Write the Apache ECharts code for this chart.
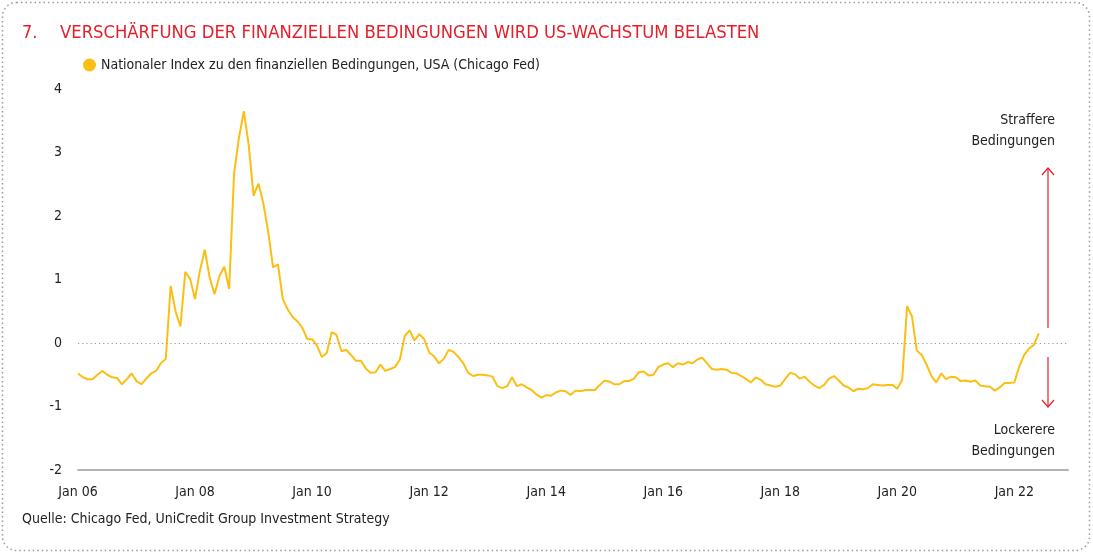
<!DOCTYPE html>
<html><head><meta charset="utf-8">
<script src="https://cdn.jsdelivr.net/npm/echarts@6/dist/echarts.min.js"></script>
<style>html,body{margin:0;padding:0;background:#fff}#c{width:1093px;height:554px}</style>
</head><body><div id="c"></div>
<script>
const TITLE_NUM = '7.';
const TITLE = 'VERSCHÄRFUNG DER FINANZIELLEN BEDINGUNGEN WIRD US-WACHSTUM BELASTEN';
const SERIES_NAME = 'Nationaler Index zu den finanziellen Bedingungen, USA (Chicago Fed)';
const SOURCE = 'Quelle: Chicago Fed, UniCredit Group Investment Strategy';
const START_YEAR = 2006;
const END_YEAR = 2022; // axis runs through Dec 2022
const tickLabels = ['Jan 06','Jan 08','Jan 10','Jan 12','Jan 14','Jan 16','Jan 18','Jan 20','Jan 22'];
const yTicks = [-2,-1,0,1,2,3,4];
// monthly values, Jan 2006 .. Jun 2022
const nfci = [
 -0.48,-0.54,-0.57,-0.57,-0.50,-0.44,-0.50,-0.54,-0.55,-0.65,-0.57,-0.48,
 -0.60,-0.65,-0.56,-0.48,-0.44,-0.32,-0.25,0.90,0.50,0.26,1.12,1.01,
 0.69,1.14,1.47,1.03,0.77,1.05,1.20,0.85,2.67,3.23,3.65,3.12,
 2.32,2.51,2.20,1.75,1.19,1.24,0.69,0.53,0.41,0.34,0.24,0.06,
 0.06,-0.04,-0.22,-0.16,0.17,0.13,-0.13,-0.11,-0.19,-0.28,-0.28,-0.40,
 -0.47,-0.46,-0.34,-0.44,-0.41,-0.38,-0.26,0.11,0.20,0.04,0.14,0.06,
 -0.15,-0.21,-0.32,-0.25,-0.11,-0.14,-0.22,-0.32,-0.47,-0.52,-0.50,-0.50,
 -0.51,-0.53,-0.68,-0.71,-0.68,-0.54,-0.68,-0.65,-0.70,-0.74,-0.81,-0.86,
 -0.82,-0.83,-0.78,-0.75,-0.76,-0.82,-0.75,-0.76,-0.74,-0.74,-0.74,-0.66,
 -0.59,-0.61,-0.65,-0.65,-0.60,-0.60,-0.56,-0.46,-0.45,-0.51,-0.50,-0.38,
 -0.34,-0.32,-0.38,-0.32,-0.34,-0.30,-0.32,-0.26,-0.23,-0.32,-0.41,-0.42,
 -0.41,-0.42,-0.47,-0.48,-0.52,-0.57,-0.62,-0.54,-0.58,-0.65,-0.67,-0.69,
 -0.67,-0.57,-0.47,-0.49,-0.56,-0.53,-0.61,-0.67,-0.71,-0.66,-0.56,-0.52,
 -0.59,-0.67,-0.70,-0.76,-0.72,-0.73,-0.71,-0.65,-0.66,-0.67,-0.66,-0.66,
 -0.72,-0.58,0.58,0.42,-0.12,-0.19,-0.34,-0.52,-0.62,-0.48,-0.57,-0.53,
 -0.54,-0.60,-0.59,-0.61,-0.59,-0.67,-0.68,-0.69,-0.75,-0.70,-0.63,-0.63,
 -0.62,-0.37,-0.19,-0.09,-0.03,0.15
];
const annotTop = ['Straffere','Bedingungen'];
const annotBottom = ['Lockerere','Bedingungen'];

const MONTHS = ['Jan','Feb','Mar','Apr','May','Jun','Jul','Aug','Sep','Oct','Nov','Dec'];
const categories = [];
for (let y = START_YEAR; y <= END_YEAR; y++) {
  for (let m = 0; m < 12; m++) categories.push(MONTHS[m] + ' ' + String(y % 100).padStart(2,'0'));
}
const FONT = '"Liberation Sans Narrow","DejaVu Sans Condensed","Roboto",sans-serif';
const RED = '#e2202c';
const YEL = '#fbbf14';

const annText = (lines, yTop) => lines.map((t, i) => ({
  type: 'text', x: 1055, y: yTop + i * 21,
  style: {text: t, fill: '#222', font: '14px ' + FONT, textAlign: 'right', textVerticalAlign: 'top'}
}));

const chart = echarts.init(document.getElementById('c'), null, {renderer:'canvas'});
chart.setOption({
  animation: false,
  backgroundColor: '#fff',
  textStyle: {fontFamily: FONT},
  grid: {left: 78, right: 25, top: 89, bottom: 84, containLabel: false},
  legend: {
    show: true, left: 78, top: 53, icon: 'circle', itemWidth: 13, itemHeight: 13, itemGap: 6,
    textStyle: {fontFamily: FONT, fontSize: 14, color: '#222'},
    data: [SERIES_NAME]
  },
  xAxis: {
    type: 'category', data: categories, boundaryGap: false,
    axisLine: {show: true, onZero: false, lineStyle: {color: '#b4b4b4', width: 2}},
    axisTick: {show: false},
    axisLabel: {
      interval: 0, margin: 15, fontSize: 14, color: '#222', fontFamily: FONT,
      formatter: (v) => tickLabels.indexOf(v) >= 0 ? v : ''
    },
    splitLine: {show: false}
  },
  yAxis: {
    type: 'value', min: yTicks[0], max: yTicks[yTicks.length-1], interval: 1,
    axisLine: {show: false}, axisTick: {show: false}, splitLine: {show: false},
    axisLabel: {margin: 16, fontSize: 14, color: '#222', fontFamily: FONT}
  },
  series: [{
    name: SERIES_NAME, type: 'line', data: nfci, showSymbol: false, symbol: 'none',
    itemStyle: {color: YEL},
    lineStyle: {color: YEL, width: 2},
    markLine: {
      silent: true, symbol: ['none','none'], label: {show: false},
      lineStyle: {color: '#9a9a9a', type: [1.2, 3], width: 1.2},
      emphasis: {disabled: true},
      data: [{yAxis: 0}]
    },
    z: 3
  }],
  graphic: [
    {type: 'rect', shape: {x: 2.5, y: 2.5, width: 1087, height: 548, r: 14},
     style: {fill: 'none', stroke: '#9a9a9a', lineWidth: 1.5, lineDash: [1.5, 3]}, silent: true},
    {type: 'text', left: 22, top: 24, style: {text: TITLE_NUM, fill: RED, font: '18px ' + FONT}},
    {type: 'text', left: 60, top: 24, style: {text: TITLE, fill: RED, font: '18.3px ' + FONT}},
    ...annText(annotTop, 113),
    ...annText(annotBottom, 423),
    {type: 'polyline', shape: {points: [[1048,168],[1048,328]]}, style: {stroke: RED, lineWidth: 1.2, fill: 'none'}},
    {type: 'polyline', shape: {points: [[1042,175],[1048,168],[1054,175]]}, style: {stroke: RED, lineWidth: 1.2, fill: 'none'}},
    {type: 'polyline', shape: {points: [[1048,357],[1048,407]]}, style: {stroke: RED, lineWidth: 1.2, fill: 'none'}},
    {type: 'polyline', shape: {points: [[1042,400],[1048,407],[1054,400]]}, style: {stroke: RED, lineWidth: 1.2, fill: 'none'}},
    {type: 'text', left: 22, top: 512, style: {text: SOURCE, fill: '#222', font: '14px ' + FONT}}
  ]
});
</script></body></html>
